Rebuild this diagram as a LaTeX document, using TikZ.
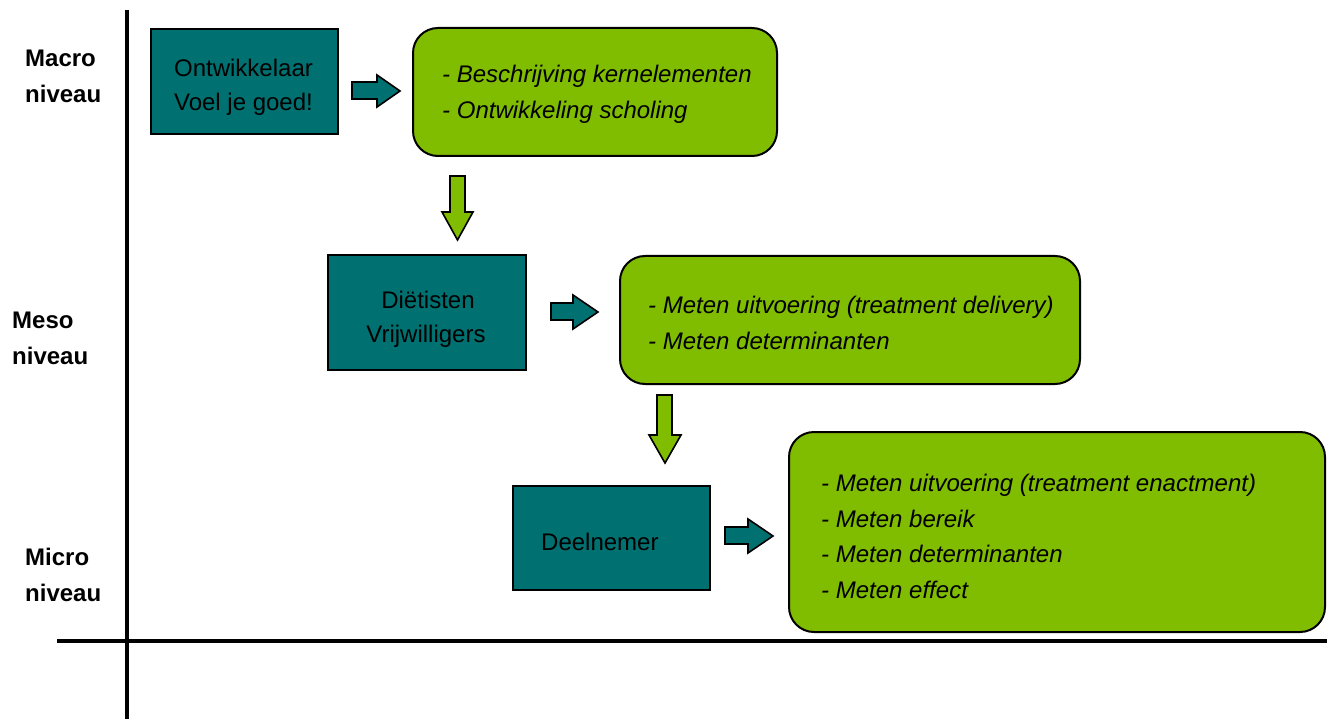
\documentclass[tikz,border=0pt]{standalone}
\usepackage{fontspec}
\setmainfont{Liberation Sans}
\definecolor{tealbox}{RGB}{0,112,112}
\definecolor{greenbox}{RGB}{128,188,0}
\begin{document}
\begin{tikzpicture}[x=1pt,y=-1pt,
  txt/.style={inner sep=0pt, font=\fontsize{24}{34}\selectfont},
  lvl/.style={inner sep=0pt, anchor=base west, font=\fontsize{24}{34}\selectfont\bfseries},
  itm/.style={inner sep=0pt, anchor=base west, font=\fontsize{24}{34}\selectfont\itshape},
  tbox/.style={draw=black, line width=1.8pt, fill=tealbox, rectangle, inner sep=0pt, anchor=north west},
  gbox/.style={draw=black, line width=2pt, fill=greenbox, rectangle, rounded corners=25pt, inner sep=0pt, anchor=north west},
  tarrow/.style={draw=black, line width=1.6pt, fill=tealbox, line join=miter},
  garrow/.style={draw=black, line width=1.6pt, fill=greenbox, line join=miter},
  axis/.style={line width=4.5pt, black}
]
\useasboundingbox (0,0) rectangle (1327,719);

% axes
\coordinate (vtop) at (127,10);
\coordinate (vbot) at (127,719);
\coordinate (hleft) at (57,641);
\coordinate (hright) at (1327,641);
\draw[axis] (vtop) -- (vbot);
\draw[axis] (hleft) -- (hright);

% level labels
\node[lvl] (macro1) at (25,67) {Macro};
\node[lvl] (macro2) at (25,103) {niveau};
\node[lvl] (meso1) at (12,328) {Meso};
\node[lvl] (meso2) at (12,364) {niveau};
\node[lvl] (micro1) at (25,565) {Micro};
\node[lvl] (micro2) at (25,601) {niveau};

% boxes
\node[tbox, minimum width=187pt, minimum height=105pt] (b1) at (150,28) {};
\node[gbox, minimum width=364pt, minimum height=128pt] (g1) at (412,27) {};
\node[tbox, minimum width=198pt, minimum height=115pt] (b2) at (327,254) {};
\node[gbox, minimum width=460pt, minimum height=128pt] (g2) at (619,255) {};
\node[tbox, minimum width=197pt, minimum height=104pt] (b3) at (512,485) {};
\node[gbox, minimum width=536pt, minimum height=200pt] (g3) at (788,431) {};

% box texts
\node[txt, anchor=base] (t1a) at (243.5,77) {Ontwikkelaar};
\node[txt, anchor=base] (t1b) at (243.5,111) {Voel je goed!};
\node[txt, anchor=base] (t2a) at (428,308) {Diëtisten};
\node[txt, anchor=base] (t2b) at (426,342) {Vrijwilligers};
\node[txt, anchor=base west] (t3a) at (541,550) {Deelnemer};

\node[itm] (g1a) at (442,83) {- Beschrijving kernelementen};
\node[itm] (g1b) at (442,119) {- Ontwikkeling scholing};
\node[itm] (g2a) at (648,313) {- Meten uitvoering (treatment delivery)};
\node[itm] (g2b) at (648,349) {- Meten determinanten};
\node[itm] (g3a) at (821,491) {- Meten uitvoering (treatment enactment)};
\node[itm] (g3b) at (821,527) {- Meten bereik};
\node[itm] (g3c) at (821,562) {- Meten determinanten};
\node[itm] (g3d) at (821,598) {- Meten effect};

% block arrows (right)
\draw[tarrow] (352,82) -- (377,82) -- (377,75) -- (400,91) -- (377,107) -- (377,99) -- (352,99) -- cycle;
\draw[tarrow] (551,303) -- (573,303) -- (573,295) -- (598,312) -- (573,329) -- (573,320) -- (551,320) -- cycle;
\draw[tarrow] (725,527) -- (748,527) -- (748,519) -- (773,536) -- (748,553) -- (748,544) -- (725,544) -- cycle;

% block arrows (down)
\draw[garrow] (450,176) -- (465,176) -- (465,212) -- (473,212) -- (457.5,240) -- (442,212) -- (450,212) -- cycle;
\draw[garrow] (657,395) -- (672,395) -- (672,435) -- (681,435) -- (665,463) -- (649,435) -- (657,435) -- cycle;
\end{tikzpicture}
\end{document}
